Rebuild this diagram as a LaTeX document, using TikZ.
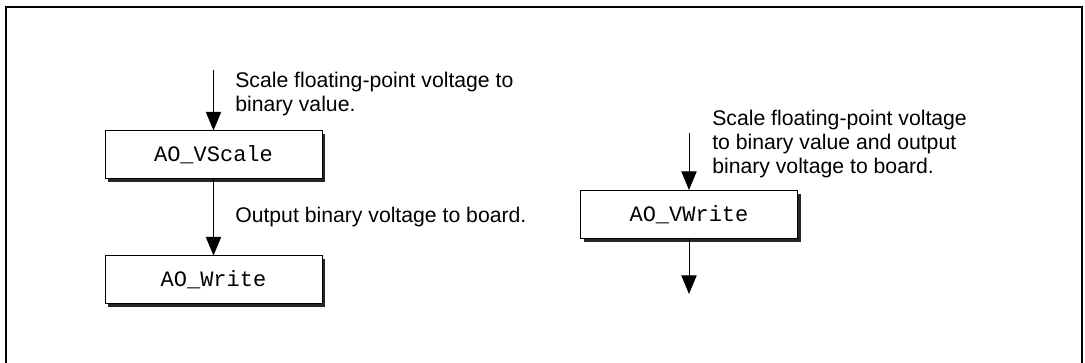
\documentclass[tikz,border=0pt]{standalone}
\usepackage{fontspec}
\setmainfont{Liberation Sans}
\setmonofont{Liberation Mono}
\usetikzlibrary{arrows.meta,positioning,shadows}

\begin{document}
\begin{tikzpicture}[
  x=0.75pt, y=-0.75pt,
  func/.style={rectangle, draw=black, line width=0.75pt, fill=white,
    minimum width=162.75pt, minimum height=36pt, font=\fontsize{16.5}{18}\ttfamily,
    drop shadow={shadow xshift=2.4pt, shadow yshift=-2.4pt, fill=black!85, opacity=1}},
  note/.style={font=\fontsize{15.9}{18}\selectfont, align=left, anchor=west, inner sep=0pt},
  arrow/.style={-{Triangle[length=14pt, width=11.5pt]}, line width=0.75pt},
]
\useasboundingbox (0,0) rectangle (1085,363);

% Frame
\draw[line width=1.6pt] (6,363) -- (6,7) -- (1082,7) -- (1082,363);

% Left chain
\node[func] (vscale) at (213.5,155) {AO\_VScale};
\node[func] (write) at (213.5,280) {AO\_Write};
\coordinate (in1) at (213.5,70);

\draw[arrow] (in1) -- (vscale);
\draw[arrow] (vscale) -- (write);

% Right chain
\node[func] (vwrite) at (689,214.5) {AO\_VWrite};
\coordinate (in2) at (689,133);
\coordinate (out2) at (689,294);

\draw[arrow] (in2) -- (vwrite);
\draw[arrow] (vwrite) -- (out2);

% Notes
\node[note] (n1) at (235,94) {Scale floating-point voltage to\\binary value.};
\node[note] (n2) at (235,217) {Output binary voltage to board.};
\node[note] (n3) at (712,144) {Scale floating-point voltage\\to binary value and output\\binary voltage to board.};

\end{tikzpicture}
\end{document}
